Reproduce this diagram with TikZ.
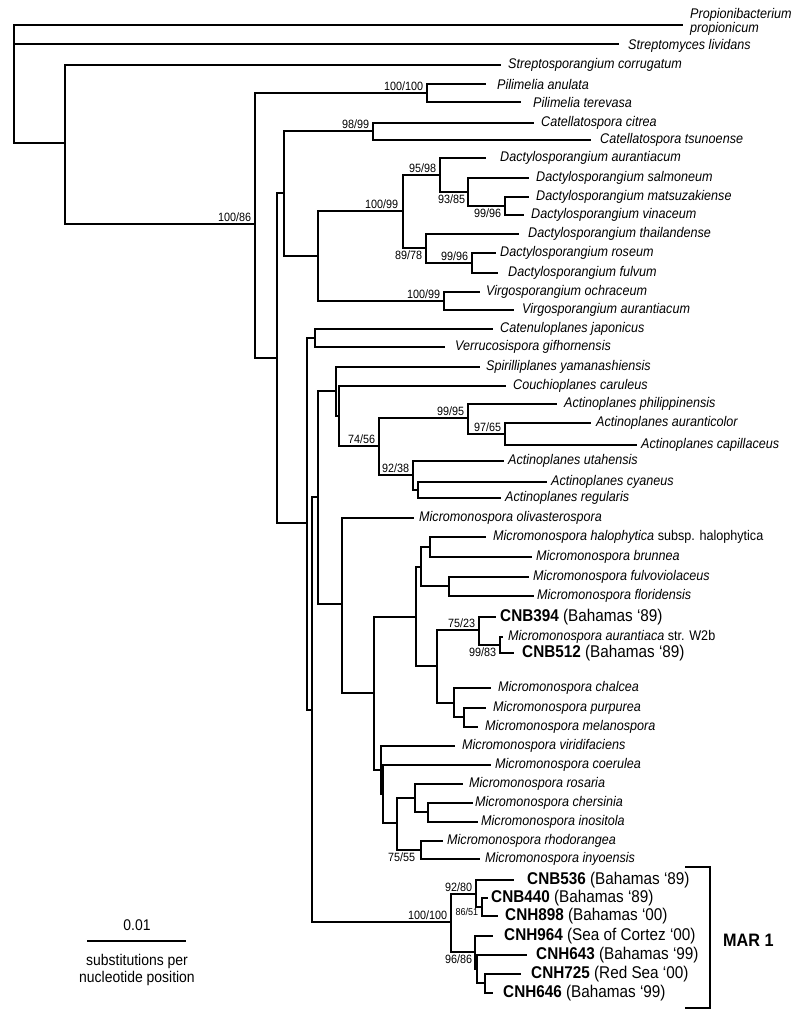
\documentclass[tikz,border=0pt]{standalone}
\usepackage{fontspec}
\setmainfont{Liberation Sans}[FakeStretch=0.9]
\tikzset{
  br/.style={line width=1.1pt, line cap=rect},
  sp/.style={anchor=west, inner sep=0pt, font=\fontsize{14}{15}\selectfont\itshape},
  cn/.style={anchor=west, inner sep=0pt, font=\fontsize{17}{18}\selectfont},
  bs/.style={inner sep=0.6pt, font=\fontsize{12}{12}\selectfont},
  bss/.style={inner sep=0.6pt, font=\fontsize{10}{10}\selectfont},
  plain/.style={inner sep=0pt, font=\fontsize{15.5}{16}\selectfont},
}
\newcommand\tipsp[5]{\coordinate (#1) at (#2,#3); \node[sp] (#1t) at (#4,#3) {#5};}
\newcommand\tipcn[6]{\coordinate (#1) at (#2,#3); \node[cn] (#1t) at (#4,#3) {\textbf{#5} #6};}
\begin{document}
\begin{tikzpicture}[x=1pt,y=-1pt]
\useasboundingbox (0,0) rectangle (799,1021);
% internal nodes
\coordinate (R0) at (14,25);
\coordinate (R2) at (65,143);
\coordinate (A) at (255,224);
\coordinate (Pil) at (427,93);
\coordinate (C) at (277,358);
\coordinate (B) at (284,193);
\coordinate (Cat) at (373,131);
\coordinate (D) at (318,256);
\coordinate (E) at (403,211);
\coordinate (F) at (440,175);
\coordinate (G) at (468,192);
\coordinate (H) at (505,206);
\coordinate (I) at (426,248);
\coordinate (J) at (472,263);
\coordinate (K) at (444,301);
\coordinate (M) at (307,523);
\coordinate (L) at (315,338);
\coordinate (N) at (312,710);
\coordinate (O) at (318,497);
\coordinate (P) at (336,391);
\coordinate (Q) at (339,416);
\coordinate (R) at (379,446);
\coordinate (S) at (468,418);
\coordinate (U) at (505,434);
\coordinate (T) at (413,475);
\coordinate (V) at (418,490);
\coordinate (W) at (342,604);
\coordinate (X) at (374,693);
\coordinate (Y) at (416,617);
\coordinate (Ya) at (421,567);
\coordinate (Yaa) at (430,547);
\coordinate (Yab) at (449,586);
\coordinate (Yb) at (437,666);
\coordinate (CNBn) at (479,630);
\coordinate (Au) at (500,645);
\coordinate (Ch) at (454,703);
\coordinate (PM) at (464,717);
\coordinate (Za) at (381,770);
\coordinate (Zb) at (383,794);
\coordinate (Zc) at (397,823);
\coordinate (Zd) at (415,798);
\coordinate (Zf) at (428,812);
\coordinate (Ze) at (421,850);
\coordinate (AA) at (451,922);
\coordinate (AB) at (476,894);
\coordinate (AC) at (482,907);
\coordinate (AD) at (475,952);
\coordinate (AE) at (477,969);
\coordinate (AF) at (485,983);
% leaves
\coordinate (propi) at (682,25);
\node[sp, align=left, font=\fontsize{14}{14.5}\selectfont\itshape] (propit) at (690,22) {Propionibacterium\\propionicum};
\coordinate (slivi) at (618,44);
\node[sp] (slivit) at (628,46) {Streptomyces lividans};
\tipsp{scorr}{500}{65}{508}{Streptosporangium corrugatum}
\tipsp{pana}{485}{84}{497}{Pilimelia anulata}
\tipsp{pter}{520}{102}{533}{Pilimelia terevasa}
\tipsp{ccit}{533}{123}{541}{Catellatospora citrea}
\tipsp{ctsu}{590}{140}{600}{Catellatospora tsunoense}
\tipsp{daur}{485}{158}{500}{Dactylosporangium aurantiacum}
\tipsp{dsal}{528}{178}{536}{Dactylosporangium salmoneum}
\tipsp{dmat}{528}{197}{536}{Dactylosporangium matsuzakiense}
\tipsp{dvin}{523}{215}{531}{Dactylosporangium vinaceum}
\tipsp{dtha}{518}{234}{528}{Dactylosporangium thailandense}
\tipsp{dros}{495}{253}{500}{Dactylosporangium roseum}
\tipsp{dful}{497}{273}{508}{Dactylosporangium fulvum}
\tipsp{voch}{479}{292}{486}{Virgosporangium ochraceum}
\tipsp{vaur}{513}{310}{522}{Virgosporangium aurantiacum}
\tipsp{cjap}{492}{329}{500}{Catenuloplanes japonicus}
\tipsp{vgif}{444}{347}{455}{Verrucosispora gifhornensis}
\tipsp{syam}{479}{367}{486}{Spirilliplanes yamanashiensis}
\tipsp{ccar}{505}{386}{513}{Couchioplanes caruleus}
\tipsp{aphi}{556}{404}{564}{Actinoplanes philippinensis}
\tipsp{aaur}{590}{423}{596}{Actinoplanes auranticolor}
\tipsp{acap}{636}{445}{641}{Actinoplanes capillaceus}
\tipsp{auta}{503}{461}{508}{Actinoplanes utahensis}
\tipsp{acya}{546}{482}{551}{Actinoplanes cyaneus}
\tipsp{areg}{500}{498}{505}{Actinoplanes regularis}
\tipsp{moli}{413}{518}{419}{Micromonospora olivasterospora}
\tipsp{mhal}{485}{537}{493}{Micromonospora halophytica {\upshape subsp. halophytica}}
\tipsp{mbru}{531}{557}{536}{Micromonospora brunnea}
\tipsp{mful}{528}{577}{533}{Micromonospora fulvoviolaceus}
\tipsp{mflo}{533}{596}{537}{Micromonospora floridensis}
\tipcn{c394}{495}{617}{500}{CNB394}{(Bahamas ‘89)}
\tipsp{maur}{502}{637}{508}{Micromonospora aurantiaca {\upshape str. W2b}}
\tipcn{c512}{513}{653}{522}{CNB512}{(Bahamas ‘89)}
\tipsp{mcha}{490}{688}{498}{Micromonospora chalcea}
\tipsp{mpur}{485}{708}{493}{Micromonospora purpurea}
\tipsp{mmel}{477}{727}{485}{Micromonospora melanospora}
\tipsp{mvir}{454}{746}{462}{Micromonospora viridifaciens}
\tipsp{mcoe}{490}{765}{495}{Micromonospora coerulea}
\tipsp{mros}{462}{784}{469}{Micromonospora rosaria}
\tipsp{mche}{472}{803}{475}{Micromonospora chersinia}
\tipsp{mino}{477}{822}{481}{Micromonospora inositola}
\tipsp{mrho}{442}{841}{447}{Micromonospora rhodorangea}
\tipsp{miny}{479}{859}{485}{Micromonospora inyoensis}
\tipcn{c536}{513}{880}{527}{CNB536}{(Bahamas ‘89)}
\tipcn{c440}{487}{898}{491}{CNB440}{(Bahamas ‘89)}
\tipcn{h898}{497}{916}{505}{CNH898}{(Bahamas ‘00)}
\tipcn{h964}{492}{936}{504}{CNH964}{(Sea of Cortez ‘00)}
\tipcn{h643}{526}{955}{536}{CNH643}{(Bahamas ‘99)}
\tipcn{h725}{520}{974}{531}{CNH725}{(Red Sea ‘00)}
\tipcn{h646}{492}{993}{503}{CNH646}{(Bahamas ‘99)}
% branches
\draw[br] (R0) |- (propi) (R0) |- (slivi) (R0) |- (R2);
\draw[br] (R2) |- (scorr) (R2) |- (A);
\draw[br] (A) |- (Pil) (A) |- (C);
\draw[br] (Pil) |- (pana) (Pil) |- (pter);
\draw[br] (C) |- (B) (C) |- (M);
\draw[br] (B) |- (Cat) (B) |- (D);
\draw[br] (Cat) |- (ccit) (Cat) |- (ctsu);
\draw[br] (D) |- (E) (D) |- (K);
\draw[br] (E) |- (F) (E) |- (I);
\draw[br] (F) |- (daur) (F) |- (G);
\draw[br] (G) |- (dsal) (G) |- (H);
\draw[br] (H) |- (dmat) (H) |- (dvin);
\draw[br] (I) |- (dtha) (I) |- (J);
\draw[br] (J) |- (dros) (J) |- (dful);
\draw[br] (K) |- (voch) (K) |- (vaur);
\draw[br] (M) |- (L) (M) |- (N);
\draw[br] (L) |- (cjap) (L) |- (vgif);
\draw[br] (N) |- (O) (N) |- (AA);
\draw[br] (O) |- (P) (O) |- (W);
\draw[br] (P) |- (syam) (P) |- (Q);
\draw[br] (Q) |- (ccar) (Q) |- (R);
\draw[br] (R) |- (S) (R) |- (T);
\draw[br] (S) |- (aphi) (S) |- (U);
\draw[br] (U) |- (aaur) (U) |- (acap);
\draw[br] (T) |- (auta) (T) |- (V);
\draw[br] (V) |- (acya) (V) |- (areg);
\draw[br] (W) |- (moli) (W) |- (X);
\draw[br] (X) |- (Y) (X) |- (Za);
\draw[br] (Y) |- (Ya) (Y) |- (Yb);
\draw[br] (Ya) |- (Yaa) (Ya) |- (Yab);
\draw[br] (Yaa) |- (mhal) (Yaa) |- (mbru);
\draw[br] (Yab) |- (mful) (Yab) |- (mflo);
\draw[br] (Yb) |- (CNBn) (Yb) |- (Ch);
\draw[br] (CNBn) |- (c394) (CNBn) |- (Au);
\draw[br] (Au) |- (maur) (Au) |- (c512);
\draw[br] (Ch) |- (mcha) (Ch) |- (PM);
\draw[br] (PM) |- (mpur) (PM) |- (mmel);
\draw[br] (Za) |- (mvir) (Za) |- (Zb);
\draw[br] (Zb) |- (mcoe) (Zb) |- (Zc);
\draw[br] (Zc) |- (Zd) (Zc) |- (Ze);
\draw[br] (Zd) |- (mros) (Zd) |- (Zf);
\draw[br] (Zf) |- (mche) (Zf) |- (mino);
\draw[br] (Ze) |- (mrho) (Ze) |- (miny);
\draw[br] (AA) |- (AB) (AA) |- (AD);
\draw[br] (AB) |- (c536) (AB) |- (AC);
\draw[br] (AC) |- (c440) (AC) |- (h898);
\draw[br] (AD) |- (h964) (AD) |- (AE);
\draw[br] (AE) |- (h643) (AE) |- (AF);
\draw[br] (AF) |- (h725) (AF) |- (h646);
% bootstrap values
\node[bs, anchor=south east] (b1) at (252,222) {100/86};
\node[bs, anchor=south east] (b2) at (424,91) {100/100};
\node[bs, anchor=south east] (b3) at (370,129) {98/99};
\node[bs, anchor=south east] (b4) at (399,209) {100/99};
\node[bs, anchor=south east] (b5) at (437,173) {95/98};
\node[bs, anchor=north east] (b6) at (466,194) {93/85};
\node[bs, anchor=north east] (b7) at (502,208) {99/96};
\node[bs, anchor=north east] (b8) at (423,250) {89/78};
\node[bs, anchor=south east] (b9) at (469,261) {99/96};
\node[bs, anchor=south east] (b10) at (441,299) {100/99};
\node[bs, anchor=south east] (b11) at (376,444) {74/56};
\node[bs, anchor=south east] (b12) at (465,416) {99/95};
\node[bs, anchor=south east] (b13) at (502,432) {97/65};
\node[bs, anchor=south east] (b14) at (410,473) {92/38};
\node[bs, anchor=south east] (b15) at (476,628) {75/23};
\node[bs, anchor=north east] (b16) at (497,647) {99/83};
\node[bs, anchor=north east] (b17) at (416,852) {75/55};
\node[bs, anchor=south east] (b18) at (473,892) {92/80};
\node[bs, anchor=south east] (b19) at (448,920) {100/100};
\node[bss, anchor=east] (b20) at (479,912) {86/51};
\node[bs, anchor=north east] (b21) at (473,954) {96/86};
% MAR 1 bracket
\coordinate (mt) at (685,867);
\coordinate (mb) at (685,1008);
\draw[line width=2pt] (mt) -| (710,1008) -- (mb);
\node[anchor=west, inner sep=0pt, font=\fontsize{18}{18}\selectfont\bfseries] (mar) at (723,940) {MAR 1};
% scale bar
\coordinate (s1) at (87,941);
\coordinate (s2) at (186,941);
\draw[line width=1.3pt] (s1) -- (s2);
\node[plain] (s0) at (137,925) {0.01};
\node[plain, align=center, font=\fontsize{15.5}{16.5}\selectfont] (s3) at (137,970) {substitutions per\\nucleotide position};
\end{tikzpicture}
\end{document}
